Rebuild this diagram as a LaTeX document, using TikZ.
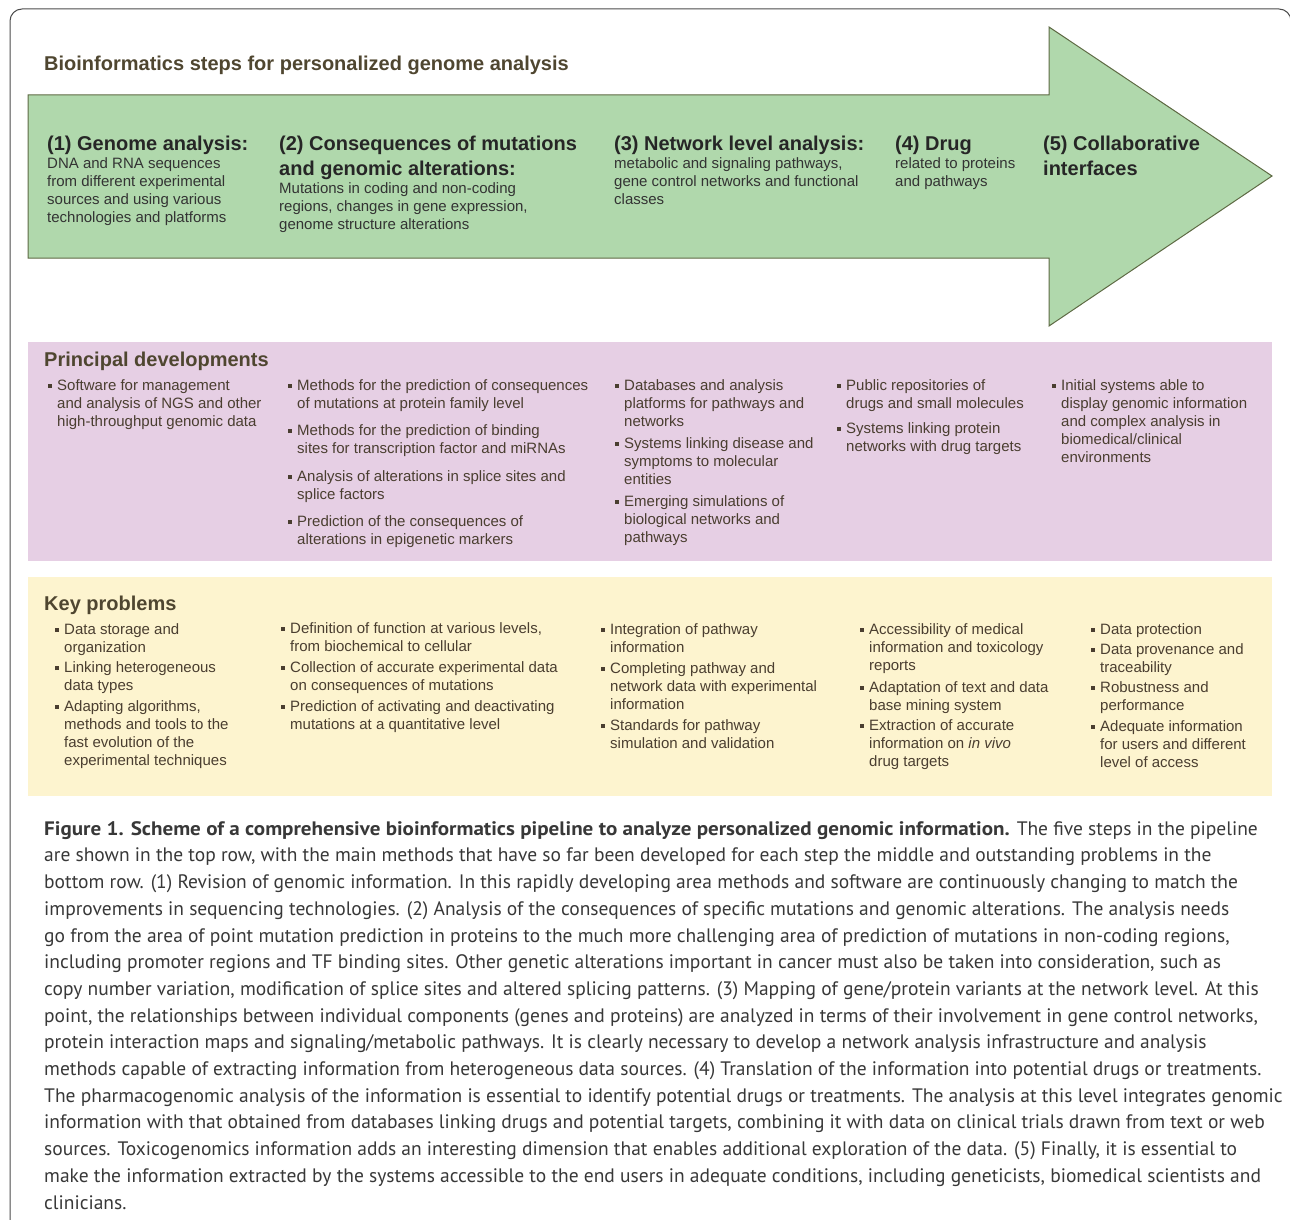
\documentclass[tikz,border=0pt]{standalone}
\usepackage{fontspec}
\setmainfont{Liberation Sans}
\newfontfamily\capfont{PT Sans}[BoldFeatures={FakeStretch=1.08}]
\usetikzlibrary{positioning}
\definecolor{arrowfill}{HTML}{B0D8AC}
\definecolor{arrowedge}{HTML}{5E6A44}
\definecolor{devfill}{HTML}{E6CFE4}
\definecolor{probfill}{HTML}{FDF4CF}
\definecolor{titlecol}{HTML}{4F4630}
\definecolor{boxtext}{HTML}{4A3E30}
\definecolor{captext}{HTML}{383838}
\newcommand{\sq}{\rule[2.5pt]{4pt}{4pt}}
\newcommand{\itm}{\strut\llap{\sq\hspace{5pt}}}
\tikzset{
  heading/.style={anchor=north west, yshift=17.5pt, inner sep=0pt, align=left,
    font=\fontsize{20}{25}\selectfont\bfseries, text=black!85},
  stepbody/.style={anchor=north west, yshift=12.6pt, inner sep=0pt, align=left,
    font=\fontsize{15}{18}\selectfont, text=black!80},
  boxtitle/.style={anchor=base west, inner sep=0pt,
    font=\fontsize{20}{25}\selectfont\bfseries, text=titlecol},
  items/.style={anchor=north west, yshift=12.6pt, inner sep=0pt, align=left,
    font=\fontsize{15}{18}\selectfont, text=boxtext},
  caption/.style={anchor=north west, yshift=18.7pt, inner sep=0pt, align=left,
    font=\capfont\fontsize{19.5}{26.7}\selectfont, text=captext}
}

\begin{document}
\begin{tikzpicture}[x=1pt,y=-1pt]
  \useasboundingbox (0,0) rectangle (1290,1220);
  \clip (0,0) rectangle (1290,1220);
  \draw[black!70, line width=1pt, rounded corners=12pt] (10,9) rectangle (1291,1232);

  \node[boxtitle] (title) at (44,71) {Bioinformatics steps for personalized genome analysis};

  % pipeline arrow
  \draw[fill=arrowfill, draw=arrowedge, line width=1pt]
    (28,95) -- (1049,95) -- (1049,27) -- (1272,176) -- (1049,326) -- (1049,258) -- (28,258) -- cycle;
  \node[heading] (h1) at (47,150) {\strut(1) Genome analysis:};
  \node[heading] (h2) at (279,150) {\strut(2) Consequences of mutations\\and genomic alterations:};
  \node[heading] (h3) at (614,150) {\strut(3) Network level analysis:};
  \node[heading] (h4) at (895,150) {\strut(4) Drug};
  \node[heading] (h5) at (1043,150) {\strut(5) Collaborative\\interfaces};
  \node[stepbody] (b1) at (47,168) {\strut DNA and RNA sequences\\from different experimental\\sources and using various\\technologies and platforms};
  \node[stepbody] (b2) at (279,193) {\strut Mutations in coding and non-coding\\regions, changes in gene expression,\\genome structure alterations};
  \node[stepbody] (b3) at (614,168) {\strut metabolic and signaling pathways,\\gene control networks and functional\\classes};
  \node[stepbody] (b4) at (895,168) {\strut related to proteins\\and pathways};

  % principal developments
  \fill[devfill] (28,342) rectangle (1272,561);
  \node[boxtitle] (devtitle) at (44,366) {Principal developments};
  \node[items] (d1) at (57,390) {\itm Software for management\\and analysis of NGS and other\\high-throughput genomic data};
  \node[items] (d2) at (297,390) {\itm Methods for the prediction of consequences\\of mutations at protein family level\\[9.5pt]
    \itm Methods for the prediction of binding\\sites for transcription factor and miRNAs\\[9.5pt]
    \itm Analysis of alterations in splice sites and\\splice factors\\[9.5pt]
    \itm Prediction of the consequences of\\alterations in epigenetic markers};
  \node[items] (d3) at (624,390) {\itm Databases and analysis\\platforms for pathways and\\networks\\[4pt]
    \itm Systems linking disease and\\symptoms to molecular\\entities\\[4pt]
    \itm Emerging simulations of\\biological networks and\\pathways};
  \node[items] (d4) at (846,390) {\itm Public repositories of\\drugs and small molecules\\[7pt]
    \itm Systems linking protein\\networks with drug targets};
  \node[items] (d5) at (1061,390) {\itm Initial systems able to\\display genomic information\\and complex analysis in\\biomedical/clinical\\environments};

  % key problems
  \fill[probfill] (28,577) rectangle (1272,796);
  \node[boxtitle] (probtitle) at (44,610) {Key problems};
  \node[items] (k1) at (64,634) {\itm Data storage and\\organization\\[2.5pt]
    \itm Linking heterogeneous\\data types\\[2.5pt]
    \itm Adapting algorithms,\\methods and tools to the\\fast evolution of the\\experimental techniques};
  \node[items] (k2) at (290,633) {\itm Definition of function at various levels,\\from biochemical to cellular\\[3pt]
    \itm Collection of accurate experimental data\\on consequences of mutations\\[3pt]
    \itm Prediction of activating and deactivating\\mutations at a quantitative level};
  \node[items] (k3) at (610,634) {\itm Integration of pathway\\information\\[3pt]
    \itm Completing pathway and\\network data with experimental\\information\\[3.5pt]
    \itm Standards for pathway\\simulation and validation};
  \node[items] (k4) at (869,634) {\itm Accessibility of medical\\information and toxicology\\reports\\[4pt]
    \itm Adaptation of text and data\\base mining system\\[2pt]
    \itm Extraction of accurate\\information on \textit{in vivo}\\drug targets};
  \node[items] (k5) at (1100,634) {\itm Data protection\\[2pt]
    \itm Data provenance and\\traceability\\[2pt]
    \itm Robustness and\\performance\\[3pt]
    \itm Adequate information\\for users and different\\level of access};

  % figure caption
  \node[caption] (cap) at (44,835) {\strut\textbf{Figure 1. Scheme of a comprehensive bioinformatics pipeline to analyze personalized genomic information.} The five steps in the pipeline\\
are shown in the top row, with the main methods that have so far been developed for each step the middle and outstanding problems in the\\
bottom row. (1) Revision of genomic information. In this rapidly developing area methods and software are continuously changing to match the\\
improvements in sequencing technologies. (2) Analysis of the consequences of specific mutations and genomic alterations. The analysis needs\\
go from the area of point mutation prediction in proteins to the much more challenging area of prediction of mutations in non-coding regions,\\
including promoter regions and TF binding sites. Other genetic alterations important in cancer must also be taken into consideration, such as\\
copy number variation, modification of splice sites and altered splicing patterns. (3) Mapping of gene/protein variants at the network level. At this\\
point, the relationships between individual components (genes and proteins) are analyzed in terms of their involvement in gene control networks,\\
protein interaction maps and signaling/metabolic pathways. It is clearly necessary to develop a network analysis infrastructure and analysis\\
methods capable of extracting information from heterogeneous data sources. (4) Translation of the information into potential drugs or treatments.\\
The pharmacogenomic analysis of the information is essential to identify potential drugs or treatments. The analysis at this level integrates genomic\\
information with that obtained from databases linking drugs and potential targets, combining it with data on clinical trials drawn from text or web\\
sources. Toxicogenomics information adds an interesting dimension that enables additional exploration of the data. (5) Finally, it is essential to\\
make the information extracted by the systems accessible to the end users in adequate conditions, including geneticists, biomedical scientists and\\
clinicians.};
\end{tikzpicture}
\end{document}
